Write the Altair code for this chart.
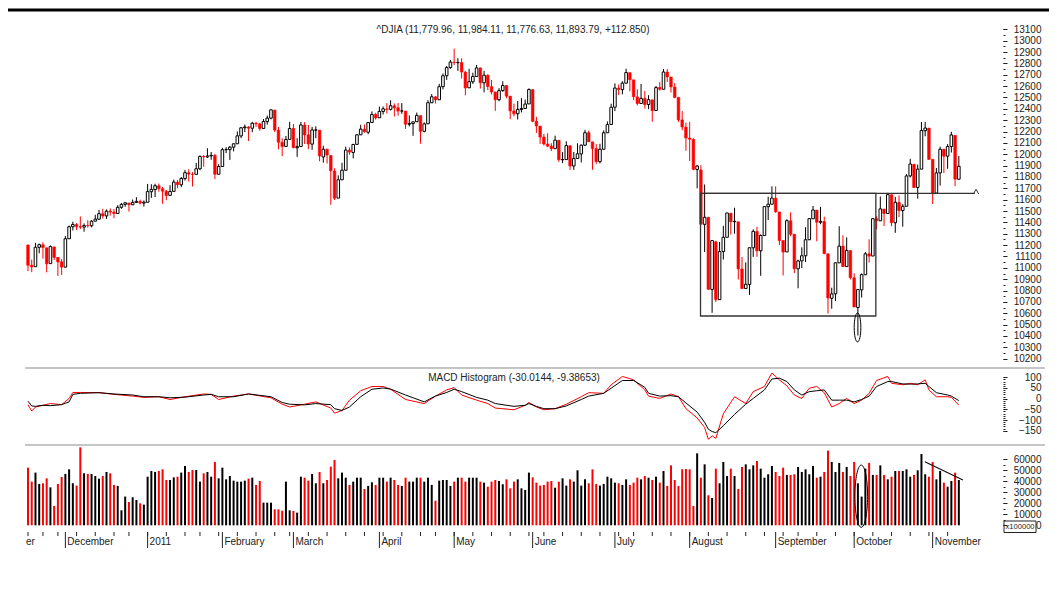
import altair as alt
import pandas as pd

FONT = "Liberation Sans"
TXT = "#222222"

price_title = "^DJIA (11,779.96, 11,984.11, 11,776.63, 11,893.79, +112.850)"
macd_title = "MACD Histogram  (-30.0144, -9.38653)"
vol_unit = "x100000"
month_labels = ["December", "2011", "February", "March", "April", "May", "June",
                "July", "August", "September", "October", "November"]
first_label_tail = "er"
holidays = ["2010-11-25", "2010-12-24", "2011-01-17", "2011-02-21", "2011-04-22",
            "2011-05-30", "2011-07-04", "2011-09-05"]

# ---- daily OHLC (Nov 16 2010 .. Nov 10 2011) ----
opens = [
    11201, 11023, 11010, 11181, 11203, 11176, 11037, 11184, 11092, 11053,
    11006, 11256, 11362, 11381, 11362, 11359, 11372, 11370, 11411, 11428, 11476, 11457, 11500, 11491, 11478, 11533, 11559, 11571, 11555, 11576, 11585, 11570,
    11577, 11670, 11689, 11722, 11697, 11675, 11638, 11673, 11754, 11731, 11786, 11838, 11824, 11823, 11872, 11980, 11977, 11986, 11990, 11824,
    11892, 12040, 12041, 12062, 12092, 12161, 12233, 12240, 12229, 12273, 12268, 12227, 12287, 12318, 12389, 12212, 12105, 12069, 12131,
    12227, 12057, 12068, 12257, 12171, 12089, 12213, 12212, 11976, 12044, 11989, 11852, 11614, 11775, 11859, 12036, 12016, 12087, 12171, 12221, 12194, 12280, 12350,
    12321, 12377, 12399, 12395, 12426, 12409, 12381, 12380, 12264, 12270, 12286, 12340, 12202, 12268, 12453, 12505, 12480, 12595, 12691, 12763,
    12811, 12806, 12807, 12723, 12585, 12638, 12685, 12760, 12629, 12695, 12595, 12547, 12480, 12561, 12605, 12511, 12381, 12356, 12394, 12403, 12443,
    12569, 12290, 12248, 12151, 12090, 12070, 12049, 12123, 11952, 11953, 12075, 11897, 11962, 12003, 12080, 12189, 12109, 12050, 11935, 12044, 12189, 12262,
    12414, 12582, 12569, 12626, 12718, 12655, 12505, 12447, 12491, 12438, 12479, 12385, 12588, 12572, 12724, 12680, 12592, 12501, 12302, 12239,
    12143, 12131, 11866, 11862, 11383, 11445, 10810, 11229, 10720, 11143, 11269, 11481, 11406, 11405, 10990, 10818, 10854, 11176, 11320, 11150, 11284, 11538, 11560,
    11613, 11492, 11240, 11140, 11414, 11296, 10992, 11061, 11106, 11247, 11432, 11508, 11401, 11408, 11124, 10732, 10771, 11044, 11191, 11011, 11152,
    10912, 10651, 10806, 10939, 11124, 11104, 11432, 11414, 11517, 11479, 11644, 11397, 11575, 11505, 11542, 11809, 11912, 11708, 11869, 12207, 12230,
    11955, 11658, 11836, 12044, 11983, 12068, 12166, 11780,
]
highs = [
    11205, 11072, 11220, 11213, 11225, 11178, 11197, 11185, 11095, 11077,
    11281, 11372, 11406, 11394, 11453, 11391, 11419, 11420, 11467, 11509, 11519, 11514, 11523, 11518, 11551, 11570, 11575, 11571, 11601, 11622, 11600, 11593,
    11739, 11736, 11740, 11742, 11712, 11685, 11727, 11777, 11772, 11799, 11862, 11868, 11842, 11923, 11989, 11993, 12053, 12020, 12003, 11912,
    12057, 12062, 12073, 12093, 12201, 12239, 12261, 12248, 12285, 12285, 12276, 12310, 12341, 12392, 12389, 12240, 12141, 12161, 12286,
    12267, 12142, 12284, 12283, 12258, 12241, 12245, 12214, 12075, 12049, 11989, 11876, 11814, 11925, 12067, 12060, 12092, 12173, 12259, 12262, 12282, 12377, 12365,
    12420, 12420, 12450, 12475, 12447, 12451, 12450, 12381, 12342, 12286, 12367, 12340, 12280, 12476, 12530, 12511, 12620, 12711, 12777, 12830,
    12930, 12845, 12845, 12732, 12752, 12718, 12786, 12762, 12734, 12704, 12654, 12552, 12582, 12642, 12606, 12512, 12445, 12469, 12494, 12482, 12580,
    12570, 12329, 12248, 12179, 12184, 12097, 12164, 12123, 12019, 12114, 12075, 12020, 12096, 12086, 12215, 12208, 12109, 12091, 12092, 12210, 12289, 12445,
    12624, 12614, 12643, 12753, 12720, 12655, 12572, 12619, 12557, 12520, 12479, 12600, 12635, 12751, 12750, 12681, 12626, 12502, 12380, 12278,
    12284, 12140, 11905, 11904, 11734, 11445, 11244, 11239, 11228, 11370, 11483, 11482, 11529, 11406, 11096, 11048, 11177, 11339, 11362, 11294, 11540, 11626, 11717,
    11717, 11492, 11240, 11428, 11488, 11296, 11072, 11180, 11358, 11434, 11545, 11508, 11537, 11450, 11124, 10825, 11045, 11366, 11286, 11268, 11152,
    10952, 10814, 10951, 11139, 11251, 11435, 11455, 11628, 11518, 11660, 11644, 11625, 11637, 11561, 11824, 11960, 11912, 11909, 12284, 12285, 12230,
    11955, 11879, 12067, 12044, 12089, 12197, 12166, 11984,
]
lows = [
    10971, 10962, 11009, 11128, 11080, 10960, 11036, 11068, 10929, 10938,
    11006, 11256, 11329, 11332, 11341, 11318, 11354, 11357, 11410, 11424, 11434, 11431, 11460, 11437, 11478, 11520, 11538, 11495, 11553, 11574, 11558, 11539,
    11577, 11616, 11623, 11670, 11564, 11595, 11637, 11673, 11701, 11710, 11768, 11760, 11716, 11823, 11860, 11890, 11967, 11951, 11781, 11822,
    11892, 12010, 11950, 12025, 12092, 12142, 12195, 12117, 12194, 12240, 12207, 12227, 12261, 12307, 12196, 12043, 11983, 12066, 12131,
    12053, 11977, 12068, 12091, 12045, 12039, 12141, 11938, 11926, 11919, 11555, 11597, 11614, 11775, 11859, 11996, 11963, 12086, 12170, 12189, 12176, 12279, 12305,
    12321, 12350, 12358, 12385, 12332, 12339, 12356, 12223, 12245, 12162, 12285, 12093, 12193, 12268, 12453, 12447, 12479, 12571, 12655, 12752,
    12785, 12734, 12667, 12519, 12585, 12619, 12684, 12578, 12545, 12565, 12526, 12382, 12466, 12549, 12493, 12309, 12333, 12306, 12368, 12402, 12443,
    12282, 12188, 12092, 12077, 12063, 12029, 12048, 11933, 11922, 11953, 11863, 11862, 11962, 11928, 12073, 12108, 11863, 11913, 11919, 12043, 12189, 12262,
    12380, 12521, 12527, 12624, 12554, 12476, 12430, 12446, 12402, 12397, 12286, 12385, 12560, 12572, 12636, 12543, 12493, 12285, 12212, 12031,
    11941, 11859, 11700, 11383, 11139, 10809, 10604, 10699, 10720, 11073, 11269, 11293, 11301, 10897, 10813, 10818, 10762, 11096, 11097, 10930, 11284, 11421, 11560,
    11484, 11200, 10933, 11140, 11277, 10954, 10820, 10998, 11051, 11247, 11432, 11234, 11384, 11120, 10597, 10640, 10707, 11044, 11007, 11011, 10897,
    10655, 10404, 10738, 10939, 11046, 11104, 11339, 11414, 11368, 11479, 11366, 11308, 11446, 11362, 11542, 11795, 11704, 11609, 11869, 12158, 11951,
    11562, 11658, 11724, 11834, 11872, 12015, 11719, 11777,
]
closes = [
    11023, 11008, 11181, 11204, 11179, 11036, 11187, 11092, 11052, 11006,
    11256, 11362, 11382, 11362, 11359, 11372, 11370, 11410, 11429, 11477, 11457, 11499, 11492, 11478, 11533, 11559, 11573, 11555, 11576, 11585, 11570, 11578,
    11671, 11691, 11723, 11697, 11675, 11637, 11672, 11755, 11732, 11787, 11838, 11825, 11823, 11872, 11981, 11977, 11985, 11990, 11824, 11892,
    12040, 12042, 12062, 12092, 12162, 12233, 12240, 12229, 12273, 12268, 12227, 12288, 12318, 12391, 12213, 12106, 12069, 12130, 12226,
    12058, 12067, 12258, 12170, 12090, 12214, 12213, 11985, 12044, 11993, 11855, 11613, 11775, 11859, 12037, 12019, 12086, 12171, 12221, 12198, 12279, 12351, 12320,
    12377, 12400, 12394, 12427, 12409, 12380, 12381, 12264, 12271, 12285, 12342, 12202, 12267, 12454, 12506, 12480, 12595, 12691, 12763, 12811,
    12807, 12808, 12724, 12584, 12639, 12685, 12760, 12630, 12696, 12596, 12548, 12480, 12560, 12605, 12512, 12381, 12356, 12395, 12403, 12442, 12570,
    12290, 12249, 12151, 12090, 12071, 12049, 12124, 11952, 11953, 12076, 11897, 11962, 12004, 12080, 12190, 12110, 12050, 11935, 12044, 12189, 12261, 12414,
    12583, 12570, 12626, 12719, 12657, 12506, 12447, 12492, 12437, 12480, 12385, 12587, 12572, 12724, 12681, 12593, 12501, 12303, 12240, 12143,
    12132, 11867, 11896, 11384, 11445, 10810, 11240, 10720, 11143, 11269, 11483, 11406, 11410, 10991, 10818, 10855, 11177, 11321, 11150, 11285, 11539, 11560, 11614,
    11494, 11240, 11139, 11415, 11296, 10992, 11061, 11106, 11247, 11433, 11509, 11401, 11409, 11125, 10734, 10771, 11044, 11191, 11011, 11154, 10913,
    10655, 10809, 10940, 11123, 11103, 11433, 11416, 11519, 11478, 11644, 11397, 11577, 11505, 11542, 11809, 11914, 11707, 11869, 12209, 12231, 11955,
    11658, 11836, 12044, 11983, 12068, 12170, 11781, 11894,
]
volumes = [
    52400, 39700, 47900, 37600, 38200, 42700, 34500, 17600, 37600, 43900,
    46700, 50900, 38200, 36100, 70900, 47300, 46700, 46700, 44800, 42400, 44800, 48500, 47300, 36700, 35800, 13600, 26100, 21200, 25500, 23000, 20000, 18800,
    44200, 49400, 48500, 49400, 50900, 41200, 41200, 43600, 44200, 47900, 53900, 48500, 50300, 50300, 39700, 47300, 48500, 44200, 57600, 42700,
    52400, 41800, 44800, 40600, 39700, 39700, 40600, 42400, 43300, 36700, 40300, 20600, 20600, 20600, 14500, 14500, 13300, 39700, 13600,
    13000, 11500, 44200, 43300, 40600, 46700, 38200, 48500, 38200, 41200, 53300, 59400, 42700, 47900, 43300, 36700, 39700, 43300, 43300, 33000, 35800, 39100, 36700,
    43300, 43300, 39700, 43300, 41200, 36700, 35800, 43300, 39700, 39700, 43300, 43300, 39700, 43300, 36700, 22400, 40600, 41200, 41200, 35800,
    39700, 43300, 43300, 39700, 43300, 43300, 43300, 39700, 38800, 35100, 39700, 41200, 40300, 37300, 41800, 33600, 39700, 41800, 33600, 32100, 47900,
    43600, 38800, 36100, 36700, 39700, 40300, 34200, 39700, 42700, 36100, 41800, 39700, 50000, 36100, 41800, 38200, 50900, 37600, 36100, 37600, 44200, 42700,
    38800, 38200, 36700, 41800, 36700, 38800, 43300, 41800, 44800, 43300, 41200, 44200, 38800, 49400, 35800, 54500, 41200, 35800, 50900, 51200,
    50900, 17600, 65400, 43300, 55400, 27300, 24800, 51500, 38200, 57600, 44800, 51500, 44800, 33000, 53000, 55400, 50900, 54500, 58500, 51500, 43300, 46400, 53900,
    48500, 44800, 52400, 45800, 45800, 46400, 53000, 48500, 50900, 46400, 53900, 43300, 44200, 48500, 67900, 57600, 48500, 56700, 48500, 53000, 44800,
    57600, 38200, 26100, 51500, 56700, 45800, 45800, 54500, 45800, 41800, 44200, 49400, 49400, 49400, 50900, 44200, 45800, 50000, 64800, 46400, 44200,
    57600, 41800, 49400, 38800, 35100, 40300, 47900, 41200,
]

# ---- MACD panel (sampled bar number, red line, black line) ----
macd_bar = [0, 1, 2, 4, 6, 9, 11, 12, 14, 19, 23, 28, 31, 35, 38, 42, 47, 49, 51, 55,
            59, 65, 68, 70, 74, 77, 81, 82, 84, 86, 89, 92, 95, 97, 101, 106, 109, 112, 114, 116,
            120, 123, 125, 130, 133, 134, 136, 138, 141, 144, 148, 150, 154, 156, 159, 162, 165, 166, 169, 172,
            174, 176, 179, 181, 182, 183, 184, 186, 189, 192, 194, 197, 199, 201, 203, 205, 207, 209, 211, 213,
            215, 217, 219, 221, 223, 225, 227, 230, 231, 234, 236, 238, 240, 241, 243, 246, 247, 249]
macd_red = [-28, -58, -39, -31, -23, -28, 1, 29, 29, 28, 20, 12, 6, 9, -4, 9, 22, 20, -4, 12,
            22, 4, -26, -39, -26, -15, -44, -68, -55, -7, 37, 57, 57, 44, -4, -23, 12, 41, 52, 17,
            -7, -23, -44, -52, -31, -18, -39, -52, -47, -26, 9, 28, 25, 65, 104, 88, 41, 12, 1, 22,
            9, -47, -90, -135, -190, -174, -186, -71, 9, -23, 33, 57, 120, 88, 60, 17, 1, 49, 57, 28,
            -39, -23, 1, -23, -7, 25, 85, 104, 72, 65, 72, 65, 88, 41, 9, 9, 6, -30]
macd_black = [-12, -34, -36, -31, -33, -28, -15, 20, 25, 28, 22, 17, 9, 9, 4, 7, 17, 20, 9, 9,
              22, 9, -18, -26, -29, -23, -28, -47, -55, -39, 9, 44, 50, 45, 17, -15, 12, 29, 44, 33,
              6, -7, -23, -36, -31, -23, -36, -47, -47, -34, -4, 12, 25, 49, 85, 85, 53, 25, 12, 14,
              9, -20, -63, -111, -143, -154, -159, -127, -74, -26, 1, 41, 92, 96, 80, 41, 17, 33, 37, 41,
              -7, -7, -7, -15, -4, 12, 57, 80, 80, 69, 68, 69, 72, 57, 28, 17, 12, -9]

# ---- annotations (data units: bar number / price / volume) ----
box_bars = [179.9, 226.8]
box_prices = [10576, 11656]
level_end_bar = 253.3
caret_bars = [252.9, 253.6, 254.3]
caret_prices = [11650, 11692, 11650]
price_ellipse = [221.9, 10475]
vol_ellipse = [222.9, 26450]
vol_trend = [239.9, 57800, 250.1, 41200]

# ---------------------------------------------------------------
all_days = pd.bdate_range("2010-11-16", "2011-11-10")
dates = [d for d in all_days if d.strftime("%Y-%m-%d") not in holidays]
n = len(dates)
for arr in (opens, highs, lows, closes, volumes):
    assert len(arr) == n, (len(arr), n)
assert len(macd_bar) == len(macd_red) == len(macd_black)

df = pd.DataFrame({
    "i": list(range(n)),
    "date": [d.strftime("%Y-%m-%d") for d in dates],
    "open": opens, "high": highs, "low": lows, "close": closes, "vol": volumes,
})
df["dir"] = ["up" if c >= o else "down" for o, c in zip(opens, closes)]

month_idx = [i for i in range(1, n) if dates[i].month != dates[i - 1].month]
assert len(month_idx) == len(month_labels)
wk = [tuple(d.isocalendar())[:2] for d in dates]
week_idx = [i for i in range(n) if i == 0 or wk[i] != wk[i - 1]]

x_scale = alt.Scale(domain=[-0.8, 256.0], nice=False, zero=False, padding=0)
price_scale = alt.Scale(domain=[10200, 13100], range=[343.7, 14.3], nice=False, zero=False, padding=0)
macd_scale = alt.Scale(domain=[-150, 100], range=[415.7, 362.3], nice=False, zero=False, padding=0)
vol_scale = alt.Scale(domain=[0, 60000], range=[510.3, 444.3], nice=False, zero=False, padding=0)
dir_color = alt.Color("dir:N", scale=alt.Scale(domain=["up", "down"], range=["#000000", "#ff0000"]), legend=None)


def X(field="i"):
    return alt.X(f"{field}:Q", scale=x_scale, axis=None)


def right_axis(values, labels=True, tick=4):
    return alt.Axis(orient="right", values=values, offset=18, domain=False, grid=False, title=None,
                    labels=labels, format="d", labelFont=FONT, labelFontSize=10, labelColor=TXT,
                    labelAlign="right", labelPadding=34, labelOverlap=False, tickSize=tick,
                    tickColor=TXT, tickWidth=1)


one = pd.DataFrame({"k": [0]})

top_line = alt.Chart(one).mark_rule(color="black", strokeWidth=3).encode(
    x=alt.value(-17), x2=alt.value(1024), y=alt.value(-5))
sep1 = alt.Chart(one).mark_rule(color="#8c8c8c", strokeWidth=1.2).encode(
    x=alt.value(0), x2=alt.value(1020), y=alt.value(353))
sep2 = alt.Chart(one).mark_rule(color="#8c8c8c", strokeWidth=1.2).encode(
    x=alt.value(0), x2=alt.value(1020), y=alt.value(430))

# price panel
wicks = alt.Chart(df).mark_rule(strokeWidth=1).encode(
    x=X(), y=alt.Y("low:Q", scale=price_scale, axis=right_axis(list(range(10200, 13101, 100)))),
    y2="high:Q", color=dir_color)
price_minor = alt.Chart(pd.DataFrame({"v": [10150, 13150]})).mark_point(opacity=0).encode(
    y=alt.Y("v:Q", scale=price_scale, axis=right_axis(list(range(10150, 13151, 50)), labels=False, tick=2)))
up_bodies = alt.Chart(df).transform_filter("datum.dir == 'up'").mark_bar(
    orient="vertical", size=2.6, fill="white", stroke="black", strokeWidth=1).encode(
    x=X(), y=alt.Y("open:Q", scale=price_scale, axis=None), y2="close:Q")
down_bodies = alt.Chart(df).transform_filter("datum.dir == 'down'").mark_bar(
    orient="vertical", size=2.6, fill="#ff0000", stroke="#ff0000", strokeWidth=0.6).encode(
    x=X(), y=alt.Y("open:Q", scale=price_scale, axis=None), y2="close:Q")

box_df = pd.DataFrame({"x0": [box_bars[0]], "x1": [box_bars[1]], "y0": [box_prices[0]], "y1": [box_prices[1]],
                       "xe": [level_end_bar]})
box = alt.Chart(box_df).mark_rect(fill="white", fillOpacity=0, stroke="#333333", strokeWidth=1.3).encode(
    x=alt.X("x0:Q", scale=x_scale, axis=None), x2="x1:Q",
    y=alt.Y("y0:Q", scale=price_scale, axis=None), y2="y1:Q")
level = alt.Chart(box_df).mark_rule(color="#333333", strokeWidth=1.3).encode(
    x=alt.X("x0:Q", scale=x_scale, axis=None), x2="xe:Q",
    y=alt.Y("y1:Q", scale=price_scale, axis=None))
caret = alt.Chart(pd.DataFrame({"b": caret_bars, "p": caret_prices, "o": [0, 1, 2]})).mark_line(
    color="#333333", strokeWidth=1).encode(
    x=alt.X("b:Q", scale=x_scale, axis=None), y=alt.Y("p:Q", scale=price_scale, axis=None), order="o:Q")
ell1 = alt.Chart(pd.DataFrame({"b": [price_ellipse[0]], "p": [price_ellipse[1]]})).mark_point(
    shape="M0,-1 A0.23,1 0 1,1 0,1 A0.23,1 0 1,1 0,-1 Z", size=841, filled=False,
    stroke="black", strokeWidth=1, opacity=1).encode(
    x=alt.X("b:Q", scale=x_scale, axis=None), y=alt.Y("p:Q", scale=price_scale, axis=None))
ptitle = alt.Chart(pd.DataFrame({"t": [price_title]})).mark_text(
    font=FONT, fontSize=10, color=TXT, align="center", baseline="middle").encode(
    x=alt.value(488), y=alt.value(15), text="t:N")

# MACD panel
m_df = pd.DataFrame({"i": macd_bar, "red": macd_red, "black": macd_black})
m_red = alt.Chart(m_df).mark_line(color="#ff0000", strokeWidth=1).encode(
    x=X(), y=alt.Y("red:Q", scale=macd_scale, axis=None))
m_black = alt.Chart(m_df).mark_line(color="#000000", strokeWidth=1).encode(
    x=X(), y=alt.Y("black:Q", scale=macd_scale, axis=right_axis([-150, -100, -50, 0, 50, 100])))
m_minor = alt.Chart(pd.DataFrame({"v": [-200, 130]})).mark_point(opacity=0).encode(
    y=alt.Y("v:Q", scale=macd_scale, axis=right_axis(list(range(-200, 131, 10)), labels=False, tick=2)))
mtitle = alt.Chart(pd.DataFrame({"t": [macd_title]})).mark_text(
    font=FONT, fontSize=10, color=TXT, align="center", baseline="middle").encode(
    x=alt.value(489), y=alt.value(362.5), text="t:N")

# volume panel
vol = alt.Chart(df).mark_bar(orient="vertical", size=2).encode(
    x=X(), y=alt.Y("vol:Q", scale=vol_scale, axis=right_axis(list(range(0, 60001, 10000)))),
    color=dir_color)
v_minor = alt.Chart(pd.DataFrame({"v": [0, 70000]})).mark_point(opacity=0).encode(
    y=alt.Y("v:Q", scale=vol_scale, axis=right_axis(list(range(0, 70001, 5000)), labels=False, tick=2)))
ell2 = alt.Chart(pd.DataFrame({"b": [vol_ellipse[0]], "v": [vol_ellipse[1]]})).mark_point(
    shape="M0,-1 A0.204,1 0 1,1 0,1 A0.204,1 0 1,1 0,-1 Z", size=3881, filled=False,
    stroke="black", strokeWidth=1, opacity=1).encode(
    x=alt.X("b:Q", scale=x_scale, axis=None), y=alt.Y("v:Q", scale=vol_scale, axis=None))
trend = alt.Chart(pd.DataFrame({"b0": [vol_trend[0]], "v0": [vol_trend[1]], "b1": [vol_trend[2]], "v1": [vol_trend[3]]})).mark_rule(
    color="#111111", strokeWidth=1.2).encode(
    x=alt.X("b0:Q", scale=x_scale, axis=None), x2="b1:Q",
    y=alt.Y("v0:Q", scale=vol_scale, axis=None), y2="v1:Q")
unit_box = alt.Chart(one).mark_rect(fill="white", fillOpacity=0, stroke="#222222", strokeWidth=1).encode(
    x=alt.value(979), x2=alt.value(1011), y=alt.value(506), y2=alt.value(517.5))
unit_txt = alt.Chart(pd.DataFrame({"t": [vol_unit]})).mark_text(
    font=FONT, fontSize=7.6, color=TXT, align="center", baseline="middle").encode(
    x=alt.value(995), y=alt.value(512), text="t:N")

# time axis
mon_df = pd.DataFrame({"i": month_idx, "label": month_labels})
wk_df = pd.DataFrame({"i": week_idx})
wk_ticks = alt.Chart(wk_df).mark_rule(color=TXT, strokeWidth=1).encode(
    x=X(), y=alt.value(517), y2=alt.value(521))
mon_ticks = alt.Chart(mon_df).mark_rule(color=TXT, strokeWidth=1).encode(
    x=X(), y=alt.value(517), y2=alt.value(533))
mon_text = alt.Chart(mon_df).mark_text(font=FONT, fontSize=10, color=TXT, align="left",
                                       baseline="middle", dx=2).encode(
    x=X(), y=alt.value(527), text="label:N")
tail_text = alt.Chart(pd.DataFrame({"t": [first_label_tail]})).mark_text(
    font=FONT, fontSize=10, color=TXT, align="left", baseline="middle").encode(
    x=alt.value(1), y=alt.value(527), text="t:N")

chart = alt.layer(
    top_line, sep1, sep2,
    wicks, price_minor, up_bodies, down_bodies, box, level, caret, ell1, ptitle,
    m_red, m_black, m_minor, mtitle,
    vol, v_minor, ell2, trend, unit_box, unit_txt,
    wk_ticks, mon_ticks, mon_text, tail_text,
).resolve_scale(y="independent").properties(
    width=960, height=511,
    autosize=alt.AutoSizeParams(type="none"),
    padding={"left": 17, "top": 7, "right": 64, "bottom": 40},
).configure_view(stroke=None)

chart.save("out.html", embed_options={"renderer": "svg", "actions": False})
